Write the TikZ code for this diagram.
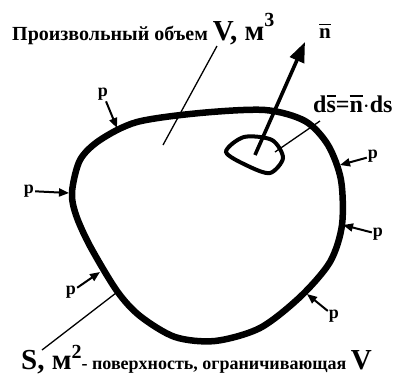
\documentclass[tikz,border=0pt]{standalone}
\usepackage{fontspec}
\setmainfont{Liberation Serif}
\usetikzlibrary{arrows.meta}
\newcommand{\barred}[1]{\leavevmode\setbox0\hbox{#1}\makebox[0pt][l]{\raisebox{0.62em}{\rule{\wd0}{0.09em}}}\box0}
\newcommand{\fs}[1]{\fontsize{#1}{#1}\selectfont}

\begin{document}
\begin{tikzpicture}[x=1pt,y=-1pt,
  wall/.style={line width=6.5pt,line join=round},
  hole/.style={line width=4pt},
  lead/.style={line width=1.3pt},
  press/.style={line width=2pt,-{Triangle[length=10pt,width=8pt]}},
  normal/.style={line width=3.6pt,-{Triangle[length=20pt,width=15pt]}},
  plab/.style={font=\bfseries\fs{18},inner sep=1pt}]
\useasboundingbox (0,0) rectangle (408,376);
% surface S
\draw[wall] plot[smooth cycle] coordinates {(72,192) (80,160) (100,140) (137,122) (200,113) (265,110) (305,121) (328,145) (341,180) (342,225) (330,262) (300,297) (260,328) (215,341) (175,337) (140,316) (117,291) (90,246) (76,215)};
% element ds
\draw[hole] plot[smooth cycle] coordinates {(226,152) (244,137) (272,140) (283,158) (270,173) (248,166)};
\coordinate (nbase) at (255,155);
\coordinate (ntip) at (305,42);
\draw[normal] (nbase) -- (ntip);
\node[font=\bfseries\fs{21}] (nlab) at (325,31) {\barred{n}};
\node[font=\bfseries\fs{24},anchor=base west,inner sep=0pt] (dslab) at (313,112) {d\barred{s}=\barred{n}$\cdot$ds};
\coordinate (dsend) at (275,152);
\draw[lead] (dsend) -- (320,121);
% labels V and S
\node[font=\bfseries\fs{20},anchor=base west,inner sep=0pt] (vlab) at (12,40) {Произвольный объем {\fs{29}V, м}\raisebox{0.7em}{\fs{20}3}};
\coordinate (vin) at (163,145);
\draw[lead] (217,46) -- (vin);
\node[font=\bfseries\fs{18},anchor=base west,inner sep=0pt] (slab) at (21,369) {{\fs{29}S, м}\raisebox{0.6em}{\fs{20}2}- поверхность, ограничивающая {\fs{29}V}};
\coordinate (sin) at (116,293);
\draw[lead] (42,350) -- (sin);
% pressure p
\node[plab] (p1) at (103,94) {p};
\node[plab] (p2) at (29,191) {p};
\node[plab] (p3) at (373,156) {p};
\node[plab] (p4) at (378,234) {p};
\node[plab] (p5) at (71,292) {p};
\node[plab] (p6) at (334,316) {p};
\coordinate (t1) at (117,128);
\coordinate (t2) at (69,193);
\coordinate (t3) at (340,165);
\coordinate (t4) at (343,225);
\coordinate (t5) at (100,272);
\coordinate (t6) at (307,294);
\foreach \i in {1,...,6} \draw[press] (p\i) -- (t\i);
\end{tikzpicture}
\end{document}
